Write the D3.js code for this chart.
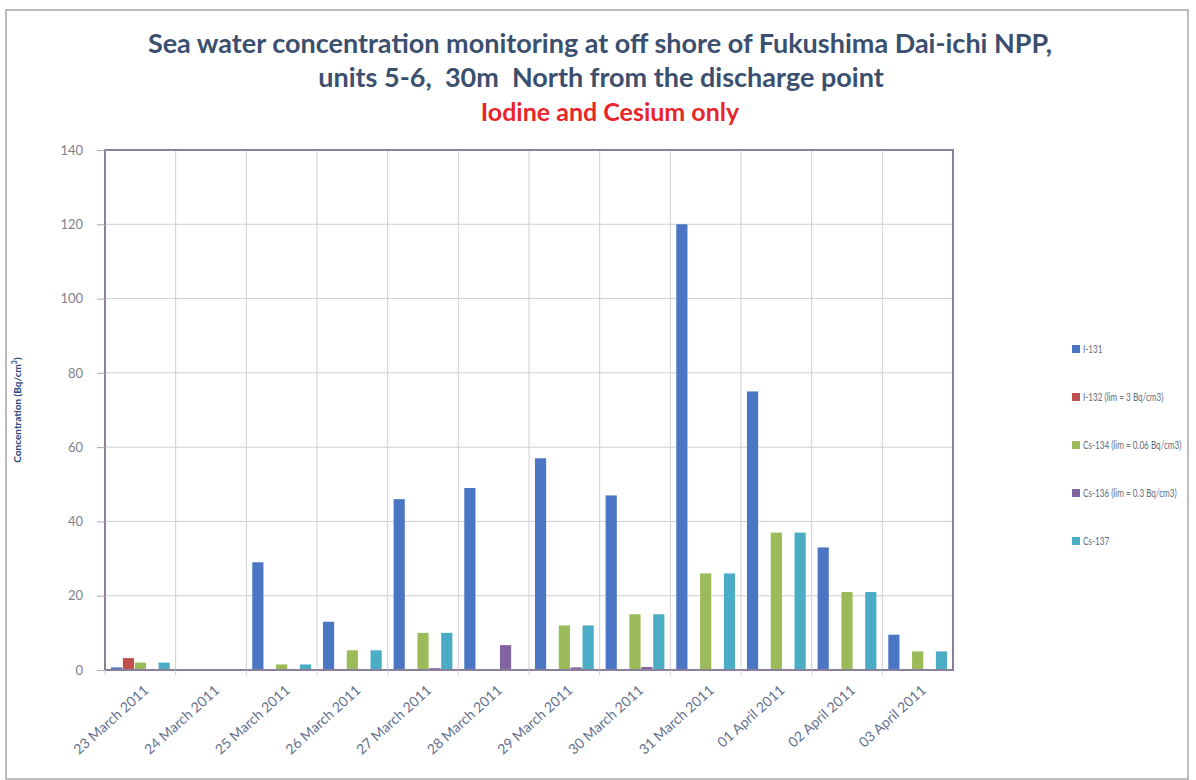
<!DOCTYPE html>
<html>
<head>
<meta charset="utf-8">
<script src="https://cdn.jsdelivr.net/npm/d3@7"></script>
<style>
  body { margin: 0; background: #fff; }
  svg { display: block; font-family: Lato, "Open Sans", sans-serif; }
</style>
</head>
<body>
<svg id="chart" width="1196" height="780"></svg>
<script>
const dates = ['23 March 2011', '24 March 2011', '25 March 2011', '26 March 2011', '27 March 2011',
  '28 March 2011', '29 March 2011', '30 March 2011', '31 March 2011', '01 April 2011',
  '02 April 2011', '03 April 2011'];

const seriesNames = ['I-131', 'I-132 (lim = 3 Bq/cm3)', 'Cs-134 (lim = 0.06 Bq/cm3)',
  'Cs-136 (lim = 0.3 Bq/cm3)', 'Cs-137'];

const i131  = [0.7, 0, 29, 13, 46, 49, 57, 47, 120, 75, 33, 9.5];
const i132  = [3.2, 0, 0, 0, 0, 0, 0, 0, 0, 0, 0, 0];
const cs134 = [2, 0, 1.5, 5.3, 10, 0, 12, 15, 26, 37, 21, 5];
const cs136 = [0, 0, 0, 0, 0.5, 6.7, 0.7, 0.8, 0, 0, 0, 0];
const cs137 = [2, 0, 1.5, 5.3, 10, 0, 12, 15, 26, 37, 21, 5];

const yTicks = [0, 20, 40, 60, 80, 100, 120, 140];
const colors = ['#4a76c4', '#c0504d', '#9bbb59', '#8064a2', '#4bacc6'];

const allSeries = [i131, i132, cs134, cs136, cs137];

const svg = d3.select('#chart');

// outer frame
svg.append('rect')
  .attr('x', 6).attr('y', 10)
  .attr('width', 1182).attr('height', 769)
  .attr('fill', 'none')
  .attr('stroke', '#a6a6a6')
  .attr('stroke-width', 1.5);

// title
const titleLines = [
  {t: 'Sea water concentration monitoring at off shore of Fukushima Dai-ichi NPP,', x: 600, y: 53, c: '#3b4f6f', s: 27},
  {t: 'units 5-6,  30m  North from the discharge point', x: 601, y: 87, c: '#3b4f6f', s: 27},
  {t: 'Iodine and Cesium only', x: 610, y: 121, c: '#e8262a', s: 25}
];
svg.selectAll('text.title')
  .data(titleLines)
  .join('text')
    .attr('class', 'title')
    .attr('x', d => d.x)
    .attr('y', d => d.y)
    .attr('text-anchor', 'middle')
    .attr('font-size', d => d.s)
    .attr('font-weight', 'bold')
    .attr('fill', d => d.c)
    .style('white-space', 'pre')
    .text(d => d.t);

const plotLeft = 105, plotRight = 953, plotTop = 150, plotBottom = 670;

const x = d3.scaleBand()
  .domain(dates)
  .range([plotLeft, plotRight]);

const x1 = d3.scaleBand()
  .domain(d3.range(seriesNames.length))
  .range([0, x.bandwidth()])
  .paddingInner(0.06)
  .paddingOuter(0.5);

const y = d3.scaleLinear()
  .domain([0, 140])
  .range([plotBottom, plotTop]);

// gridlines
svg.append('g')
  .selectAll('line')
  .data(yTicks.slice(1))
  .join('line')
    .attr('x1', plotLeft).attr('x2', plotRight)
    .attr('y1', d => y(d)).attr('y2', d => y(d))
    .attr('stroke', '#d4ccd4')
    .attr('stroke-width', 1);

svg.append('g')
  .selectAll('line')
  .data(dates.slice(1))
  .join('line')
    .attr('x1', d => x(d)).attr('x2', d => x(d))
    .attr('y1', plotTop).attr('y2', plotBottom)
    .attr('stroke', '#d4ccd4')
    .attr('stroke-width', 1);

// bars
const groups = svg.append('g')
  .selectAll('g')
  .data(allSeries)
  .join('g')
    .attr('fill', (d, i) => colors[i]);

groups.each(function(vals, si) {
  d3.select(this).selectAll('rect')
    .data(vals)
    .join('rect')
      .attr('x', (v, i) => x(dates[i]) + x1(si))
      .attr('width', x1.bandwidth())
      .attr('y', v => y(v))
      .attr('height', v => plotBottom - y(v));
});

// plot border
svg.append('rect')
  .attr('x', plotLeft).attr('y', plotTop)
  .attr('width', plotRight - plotLeft).attr('height', plotBottom - plotTop)
  .attr('fill', 'none')
  .attr('stroke', '#8c7f9c')
  .attr('stroke-width', 2);

// y axis
const yAxis = svg.append('g')
  .attr('transform', `translate(${plotLeft},0)`)
  .call(d3.axisLeft(y).tickValues(yTicks).tickSize(8).tickPadding(14));
yAxis.select('.domain').remove();
yAxis.selectAll('line').attr('stroke', '#b0a4b8');
yAxis.selectAll('text')
  .attr('font-size', 13)
  .attr('font-family', 'Lato, sans-serif')
  .attr('fill', '#7f7f8a');

// x axis
const xAxis = svg.append('g')
  .attr('transform', `translate(0,${plotBottom})`)
  .call(d3.axisBottom(x).tickSize(5).tickSizeOuter(0));
xAxis.select('.domain').remove();
xAxis.selectAll('line')
  .attr('transform', d => `translate(${-x.bandwidth() / 2},0)`)
  .attr('stroke', '#d4ccd4');
xAxis.selectAll('text')
  .attr('font-size', 14)
  .attr('font-family', 'Lato, sans-serif')
  .attr('fill', '#63708e')
  .attr('text-anchor', 'end')
  .attr('y', 0)
  .attr('dy', '0.35em')
  .attr('transform', 'translate(6,18) rotate(-42)');

// y label
svg.append('text')
  .attr('transform', 'translate(21,410) rotate(-90)')
  .attr('text-anchor', 'middle')
  .attr('font-size', 10)
  .attr('font-weight', 'bold')
  .attr('fill', '#2a4a7a')
  .html('Concentration (Bq/cm<tspan baseline-shift="super" font-size="7">3</tspan>)');

// legend
const legend = svg.append('g')
  .selectAll('g')
  .data(seriesNames)
  .join('g')
    .attr('transform', (d, i) => `translate(1072,${349 + i * 48})`);
legend.append('rect')
  .attr('x', 0).attr('y', -4)
  .attr('width', 8).attr('height', 8)
  .attr('fill', (d, i) => colors[i]);
// the original legend font is narrow, so squeeze horizontally
legend.append('text')
  .attr('transform', 'translate(11,0) scale(0.74,1)')
  .attr('dy', '0.35em')
  .attr('font-size', 11)
  .attr('fill', '#5f6d80')
  .text(d => d);
</script>
</body>
</html>
